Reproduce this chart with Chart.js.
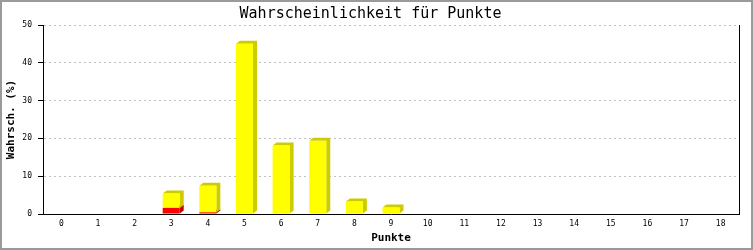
<!DOCTYPE html>
<html lang="de">
<head>
    <meta charset="UTF-8">
    <title>Wahrscheinlichkeit für Punkte</title>
    <script src="https://cdn.jsdelivr.net/npm/chart.js"></script>
    <style>
        html, body { margin: 0; padding: 0; background: #fff; }
        .rahmen {
            width: 753px;
            height: 250px;
            box-sizing: border-box;
            border: 2px solid #9a9a9a;
        }
    </style>
</head>
<body>
    <div class="rahmen">
        <canvas id="grafico" width="749" height="246"></canvas>
    </div>

    <script>
        // Daten
        const punkte = ['0','1','2','3','4','5','6','7','8','9','10','11','12','13','14','15','16','17','18'];
        const rot =  [0, 0, 0, 1.6, 0.4, 0.15, 0, 0, 0, 0, 0, 0, 0, 0, 0, 0, 0, 0, 0];
        const gelb = [0, 0, 0, 3.8, 7.1, 44.9, 18.1, 19.4, 3.3, 1.7, 0, 0, 0, 0, 0, 0, 0, 0, 0];
        const yTicks = [0, 10, 20, 30, 40, 50];

        const schrift = "'DejaVu Sans Mono', monospace";

        // 3D-Effekt: Seite und Deckel der Balken
        const balken3d = {
            id: 'balken3d',
            beforeDatasetsDraw(chart) {
                const ctx = chart.ctx;
                const dx = 4, dy = 3;
                chart.data.datasets.forEach((ds, i) => {
                    const meta = chart.getDatasetMeta(i);
                    meta.data.forEach((bar) => {
                        const { x, y, base, width } = bar.getProps(['x', 'y', 'base', 'width'], true);
                        if (Math.abs(base - y) < 0.5) return;
                        const l = x - width / 2, r = x + width / 2;
                        ctx.save();
                        ctx.fillStyle = ds.seite;
                        ctx.beginPath();
                        ctx.moveTo(l, y);
                        ctx.lineTo(l + dx, y - dy);
                        ctx.lineTo(r + dx, y - dy);
                        ctx.lineTo(r + dx, base - dy);
                        ctx.lineTo(r, base);
                        ctx.lineTo(r, y);
                        ctx.closePath();
                        ctx.fill();
                        ctx.restore();
                    });
                });
            }
        };

        // rechte Begrenzungslinie
        const rechteLinie = {
            id: 'rechteLinie',
            afterDraw(chart) {
                const { ctx, chartArea } = chart;
                ctx.save();
                ctx.strokeStyle = '#000';
                ctx.lineWidth = 1;
                ctx.beginPath();
                ctx.moveTo(Math.round(chartArea.right) + 0.5, chartArea.top);
                ctx.lineTo(Math.round(chartArea.right) + 0.5, chartArea.bottom);
                ctx.stroke();
                ctx.restore();
            }
        };

        new Chart(document.getElementById('grafico'), {
            type: 'bar',
            data: {
                labels: punkte,
                datasets: [
                    {
                        label: 'rot',
                        data: rot,
                        backgroundColor: '#ff0000',
                        seite: '#c80000',
                        barPercentage: 0.465,
                        categoryPercentage: 1
                    },
                    {
                        label: 'gelb',
                        data: gelb,
                        backgroundColor: '#ffff00',
                        seite: '#cccc00',
                        barPercentage: 0.465,
                        categoryPercentage: 1
                    }
                ]
            },
            plugins: [balken3d, rechteLinie],
            options: {
                responsive: false,
                animation: false,
                devicePixelRatio: 1,
                layout: { padding: { left: 0, right: 12, top: 0, bottom: 0 } },
                plugins: {
                    legend: { display: false },
                    tooltip: { enabled: false },
                    title: {
                        display: true,
                        text: 'Wahrscheinlichkeit für Punkte',
                        color: '#000',
                        font: { family: schrift, size: 15, weight: 'normal', lineHeight: 1.2 },
                        padding: { top: 3, bottom: 2 }
                    }
                },
                scales: {
                    x: {
                        stacked: true,
                        grid: { display: false, drawTicks: false },
                        border: { display: true, color: '#000', width: 1 },
                        ticks: {
                            color: '#000',
                            padding: 5,
                            font: { family: schrift, size: 8 }
                        },
                        title: {
                            display: true,
                            text: 'Punkte',
                            color: '#000',
                            font: { family: schrift, size: 11, weight: 'bold', lineHeight: 1.2 },
                            padding: { top: 0, bottom: 3 }
                        },
                        afterFit(scale) { scale.height = 34; }
                    },
                    y: {
                        stacked: true,
                        min: 0,
                        max: 50,
                        afterBuildTicks(scale) {
                            scale.ticks = yTicks.map(v => ({ value: v }));
                        },
                        grid: {
                            color: '#c0c0c0',
                            lineWidth: 1,
                            drawTicks: true,
                            tickLength: 5,
                            tickColor: '#000',
                            tickBorderDash: [],
                            tickWidth: 1
                        },
                        border: { display: true, color: '#000', width: 1, dash: [2, 3], dashOffset: 0 },
                        ticks: {
                            color: '#000',
                            padding: 6,
                            font: { family: schrift, size: 8 }
                        },
                        title: {
                            display: true,
                            text: 'Wahrsch. (%)',
                            color: '#000',
                            font: { family: schrift, size: 11, weight: 'bold', lineHeight: 1.2 },
                            padding: { top: 3, bottom: 0 }
                        },
                        afterFit(scale) { scale.width = 41; }
                    }
                }
            }
        });
    </script>
</body>
</html>
